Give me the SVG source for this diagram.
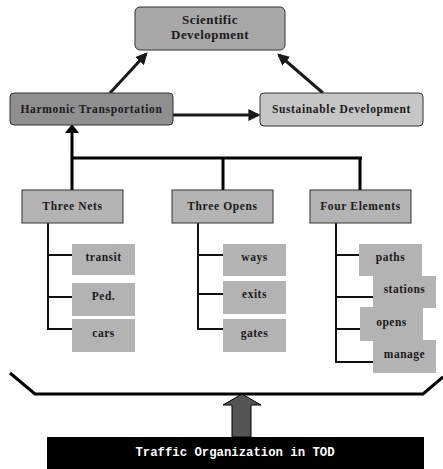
<svg xmlns="http://www.w3.org/2000/svg" width="443" height="469" viewBox="0 0 443 469">
  <style>
    .t { font-family: "Liberation Serif", "Times New Roman", serif; font-weight: bold; fill: #1a1a1a; text-anchor: middle; }
    .top { font-size: 13px; letter-spacing: 0.45px; }
    .mid { font-size: 11.5px; letter-spacing: 0.65px; }
    .sub { font-size: 11.5px; letter-spacing: 0.5px; }
    .rbox { stroke: #333; stroke-width: 1; }
    .cat { fill: #b4b4b4; stroke: #333; stroke-width: 1; }
    .leaf { fill: #b3b3b3; }
    .ln { stroke: #000; stroke-width: 3; fill: none; }
    .thin { stroke: #111; stroke-width: 2; fill: none; }
    .arr { stroke: #1a1a1a; stroke-width: 3; fill: none; marker-end: url(#head); }
  </style>
  <defs>
    <marker id="head" viewBox="0 0 10 10" refX="8" refY="5" markerWidth="4" markerHeight="4" orient="auto" markerUnits="strokeWidth">
      <path d="M0,0 L10,5 L0,10 Z" fill="#1a1a1a"/>
    </marker>
  </defs>
  <rect width="443" height="469" fill="#fff"/>

  <g id="connectors">
    <path class="arr" d="M110,93 L146,54"/>
    <path class="arr" d="M323,93 L279,55"/>
    <path class="arr" d="M173,115 L258,115"/>
    <path class="ln" d="M72,158 L72,131"/>
    <path d="M65,133 L72,124 L79,133 Z" fill="#000"/>
    <path class="ln" d="M72,158 L362,158"/>
    <path class="ln" d="M72,157 L72,190 M223,157 L223,190 M360,157 L360,190"/>
    <!-- branch trunks -->
    <path class="thin" d="M48,223 L48,329 L72,329 M48,255 L72,255 M48,297 L72,297"/>
    <path class="thin" d="M198,223 L198,329 L223,329 M198,255 L223,255 M198,294 L223,294"/>
    <path class="thin" d="M336,223 L336,362 L373,362 M336,255 L359,255 M336,297 L373,297 M336,329 L360,329"/>
    <!-- base bracket -->
    <path class="ln" d="M10,373 L35,394 L423,394 L443,377"/>
    <path d="M232,437 L232,405 L223,405 L242,394 L261,405 L251,405 L251,437 Z" fill="#555" stroke="#000" stroke-width="1"/>
  </g>

  <g id="scientific">
    <rect class="rbox" x="135" y="7" width="150" height="43" rx="5" fill="#a8a8a8"/>
    <text class="t top" x="210" y="24">Scientific</text>
    <text class="t top" x="210" y="39">Development</text>
  </g>
  <g id="harmonic">
    <rect class="rbox" x="10" y="93" width="163" height="32" rx="4" fill="#8f8f8f"/>
    <text class="t mid" x="91.5" y="113">Harmonic Transportation</text>
  </g>
  <g id="sustainable">
    <rect class="rbox" x="260" y="93" width="163" height="33" rx="4" fill="#c6c6c6"/>
    <text class="t mid" x="341.5" y="113">Sustainable Development</text>
  </g>

  <g id="three-nets">
    <rect class="cat" x="22" y="190" width="101" height="33"/>
    <text class="t mid" x="72.5" y="210">Three Nets</text>
  </g>
  <g id="three-opens">
    <rect class="cat" x="172" y="190" width="101" height="33"/>
    <text class="t mid" x="222.5" y="210">Three Opens</text>
  </g>
  <g id="four-elements">
    <rect class="cat" x="310" y="190" width="101" height="33"/>
    <text class="t mid" x="360.5" y="210">Four Elements</text>
  </g>

  <g id="transit"><rect class="leaf" x="72" y="244" width="63" height="31"/><text class="t sub" x="103.5" y="261">transit</text></g>
  <g id="ped"><rect class="leaf" x="72" y="283" width="63" height="33"/><text class="t sub" x="103.5" y="300">Ped.</text></g>
  <g id="cars"><rect class="leaf" x="72" y="319" width="63" height="33"/><text class="t sub" x="103.5" y="337">cars</text></g>

  <g id="ways"><rect class="leaf" x="223" y="244" width="63" height="32" /><text class="t sub" x="254.5" y="261">ways</text></g>
  <g id="exits"><rect class="leaf" x="223" y="281" width="63" height="33"/><text class="t sub" x="254.5" y="298">exits</text></g>
  <g id="gates"><rect class="leaf" x="223" y="319" width="63" height="33"/><text class="t sub" x="254.5" y="337">gates</text></g>

  <g id="paths"><rect class="leaf" x="359" y="244" width="63" height="32"/><text class="t sub" x="390.5" y="261">paths</text></g>
  <g id="stations"><rect class="leaf" x="373" y="276" width="63" height="32"/><text class="t sub" x="404.5" y="293">stations</text></g>
  <g id="opens"><rect class="leaf" x="360" y="307" width="63" height="34"/><text class="t sub" x="391.5" y="326">opens</text></g>
  <g id="manage"><rect class="leaf" x="373" y="340" width="63" height="33"/><text class="t sub" x="404.5" y="358">manage</text></g>

  <g id="tod">
    <rect x="47" y="437" width="377" height="32" fill="#000"/>
    <text x="235" y="456" font-family="'Liberation Mono', 'Courier New', monospace" font-weight="bold" font-size="12.3" fill="#fff" text-anchor="middle">Traffic Organization in TOD</text>
  </g>
</svg>
